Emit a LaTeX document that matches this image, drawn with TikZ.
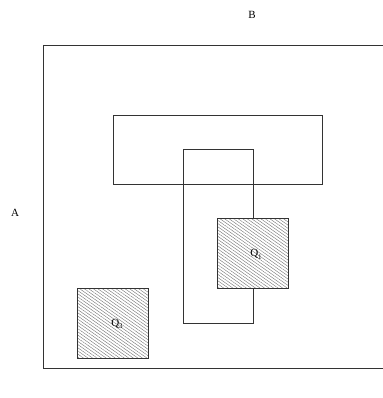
\documentclass[tikz,border=0pt]{standalone}
\usepackage{fontspec}
\setmainfont{Liberation Serif}
\usetikzlibrary{patterns.meta}
\begin{document}
\begin{tikzpicture}[x=1pt,y=-1pt,
  box/.style={draw=black!80,line width=0.7pt},
  hatched/.style={box,pattern={Lines[angle=-35,distance=2.6pt,line width=0.4pt]},pattern color=black!55},
  lbl/.style={font=\fontsize{11}{12}\selectfont,inner sep=0pt}]
\useasboundingbox (0,0) rectangle (382,398);
\draw[box] (43,45) -- (390,45) (43,45) -- (43,368) -- (390,368);
\node[lbl] (B) at (252,15) {B};
\node[lbl] (A) at (15,213) {A};
\draw[box] (113,115) rectangle (322,184);
\draw[box] (183,149) rectangle (253,323);
\fill[white] (217,218) rectangle (288,288);
\draw[hatched] (217,218) rectangle (288,288);
\fill[white] (77,288) rectangle (148,358);
\draw[hatched] (77,288) rectangle (148,358);
\node[lbl] (Q1) at (256,254) {Q\raisebox{-0.25em}{\fontsize{7}{8}\selectfont 1}};
\node[lbl] (Q3) at (117,324) {Q\raisebox{-0.25em}{\fontsize{7}{8}\selectfont 3}};
\end{tikzpicture}
\end{document}
